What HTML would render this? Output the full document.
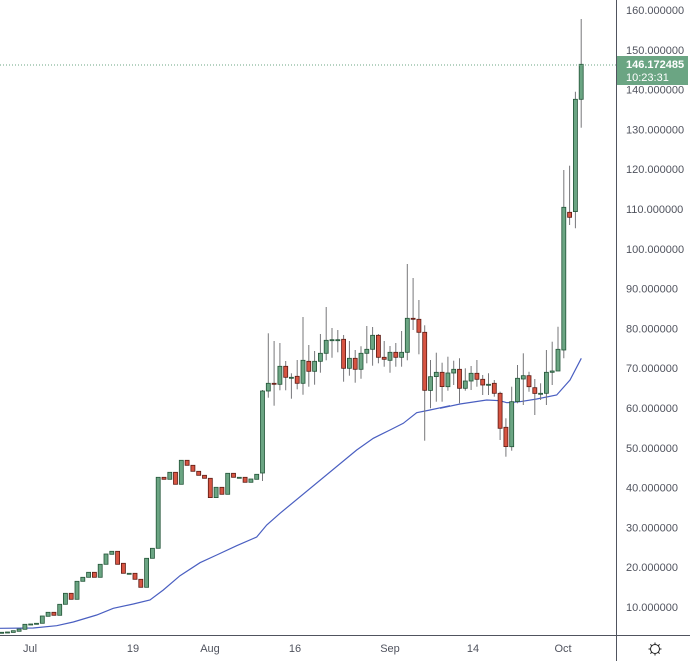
<!DOCTYPE html>
<html><head><meta charset="utf-8"><style>
body{margin:0;background:#fff;width:690px;height:661px;overflow:hidden}
svg{display:block;font-family:"Liberation Sans",sans-serif}
</style></head><body>
<svg id="c" width="690" height="661" xmlns="http://www.w3.org/2000/svg"></svg>
<script>
var s='';
// price axis labels
for(var p=160;p>=10;p-=10){var y=10+(160-p)*3.98;s+='<text x="626" y="'+(y+4)+'" font-size="11" fill="#50535e">'+p.toFixed(6)+'</text>';}
s+='<line x1="616.5" y1="0" x2="616.5" y2="661" stroke="#50535e" stroke-width="1"/>';
s+='<line x1="0" y1="635.5" x2="690" y2="635.5" stroke="#50535e" stroke-width="1"/>';
[['Jul',30],['19',133],['Aug',210],['16',295],['Sep',390],['14',473],['Oct',563]].forEach(function(a){s+='<text x="'+a[1]+'" y="652" font-size="11" fill="#50535e" text-anchor="middle">'+a[0]+'</text>';});
// gear
s+='<circle cx="655" cy="649" r="4.5" fill="none" stroke="#222" stroke-width="1"/>';
for(var k=0;k<8;k++){var a=k*Math.PI/4;s+='<line x1="'+(655+4.5*Math.cos(a))+'" y1="'+(649+4.5*Math.sin(a))+'" x2="'+(655+6.5*Math.cos(a))+'" y2="'+(649+6.5*Math.sin(a))+'" stroke="#222" stroke-width="1"/>';}
// data: [o,c,h,l] zoomed
var z1=[[698,697,700,696],[697,696,699,695],[697,692,698,691],[694,687,695,686],[688,673,690,671],[672,672,680,665],[673,670,678,663],[670,648,672,645],[649,637,652,622],[637,646,652,632],[646,613,647,595],[613,580,620,540],[580,598,608,548],[598,544,607,540],[544,532,555,505],[532,517,550,505],[517,532,548,505],[532,493,542,462],[493,462,512,447],[463,454,478,383],[454,493,505,410],[490,520,540,478],[520,520,540,486],[520,538,557,505],[538,562,575,530],[562,475,568,462],[475,445,485,430],[445,232,455,138],[232,238,285,131],[238,217,293,150],[217,253,375,117],[253,181,315,66],[181,196,230,107],[196,214,253,150],[214,226,275,165],[226,235,253,187],[235,293,298,215],[293,262,305,218],[262,283,290,250],[283,220,298,183],[220,232,278,180],[232,232,278,180],[232,247,275,205],[247,237,275,155],[238,223,262,165]];
var C=[];z1.forEach(function(d){C.push(d.map(function(v){return 400+v/3;}));});
C.push([473,391,250+0/3+391-250,480]);C[45]=[473,391,250+420/3,481];
var z2=[[423,400,250,443],[400,403,273,467],[403,349,279,421],[349,382,333,421],[382,382,370,446],[379,400,330,418],[400,331,201,434],[334,364,285,410],[364,334,303,404],[334,310,252,368],[310,271,171,331],[269,269,234,323],[269,269,240,307],[268,355,255,395],[355,325,273,377],[325,358,300,398],[358,310,289,386],[310,298,228,340],[298,256,231,347],[256,322,252,340],[322,328,273,350],[331,307,288,368],[307,322,279,350],[322,307,243,350],[307,205,42,331],[205,208,84,240],[208,247,150,313]];
z2.forEach(function(d){C.push(d.map(function(v){return 250+v/3;}));});
var z3=[[1138,1282,1000,1320],[1171,1130,1080,1225],[1130,1117,1058,1205],[1117,1160,1088,1205],[1160,1119,1070,1172],[1119,1108,1082,1155],[1108,1165,1075,1210],[1165,1143,1105,1172],[1143,1120,1098,1170],[1120,1138,1080,1160],[1138,1155,1125,1185],[1153,1153,1120,1185],[1150,1180,1140,1190],[1180,1285,1175,1320],[1282,1340,1255,1370],[1340,1205,1160,1352],[1205,1135,1095,1210],[1137,1127,1060,1215],[1127,1160,1115,1175],[1163,1180,1137,1245],[1180,1180,1150,1200],[1180,1117,1050,1215],[1117,1113,1025,1155],[1113,1048,980,1095],[1050,622,510,1075],[637,652,497,675],[635,298,275,685],[298,193,57,383]];
// index 73 from zoom2 is more reliable; z3 starts at 73 -> replace 73 with z2-derived, skip z3[0]
C.push([250+247/3,250+421/3,250+226/3,250+572/3]);
for(var i=1;i<z3.length;i++)C.push(z3[i].map(function(v){return v/3;}));
// MA
var ma=[];
[[0,685],[100,684],[170,677],[220,666],[290,645],[340,625],[400,612],[450,600],[490,570],[540,527],[600,488],[650,465],[710,437],[770,411],[800,375],[840,340]].forEach(function(p){ma.push([p[0]/3,400+p[1]/3]);});
[[320,600],[370,565],[420,540],[460,520],[500,488],[540,480],[600,467]].forEach(function(p){ma.push([250+p[0]/3,250+p[1]/3]);});
[[60,1225],[120,1212],[200,1200],[240,1202],[260,1208],[300,1205],[350,1197],[410,1185],[450,1140],[484,1075]].forEach(function(p){ma.push([420+p[0]/3,p[1]/3]);});
s+='<polyline fill="none" stroke="#4a5fc1" stroke-width="1.2" points="'+ma.map(function(p){return p[0].toFixed(1)+','+p[1].toFixed(1);}).join(' ')+'"/>';
// candles
C.forEach(function(d,i){var x=1.7+5.795*i;var o=d[0],c=d[1],h=d[2],l=d[3];var up=c<=o;
var top=Math.min(o,c),bot=Math.max(o,c);if(bot-top<1){bot=top+1;}
s+='<line x1="'+x.toFixed(1)+'" y1="'+Math.min(h,top).toFixed(1)+'" x2="'+x.toFixed(1)+'" y2="'+Math.max(l,bot).toFixed(1)+'" stroke="#77777a" stroke-width="1"/>';
s+='<rect x="'+(x-2).toFixed(1)+'" y="'+top.toFixed(1)+'" width="4" height="'+(bot-top).toFixed(1)+'" fill="'+(up?'#6ba583':'#d75442')+'" stroke="'+(up?'#225437':'#5b1a13')+'" stroke-width="0.8"/>';});
// last price
s+='<line x1="0" y1="65" x2="616" y2="65" stroke="#6ba583" stroke-width="1" stroke-dasharray="1,2"/>';
s+='<rect x="617" y="56" width="71" height="29" fill="#6ba583"/>';
s+='<text x="626" y="68" font-size="11" font-weight="bold" fill="#fff">146.172485</text>';
s+='<text x="626" y="81" font-size="11" fill="#fff">10:23:31</text>';
document.getElementById('c').innerHTML=s;
</script>
</body></html>
